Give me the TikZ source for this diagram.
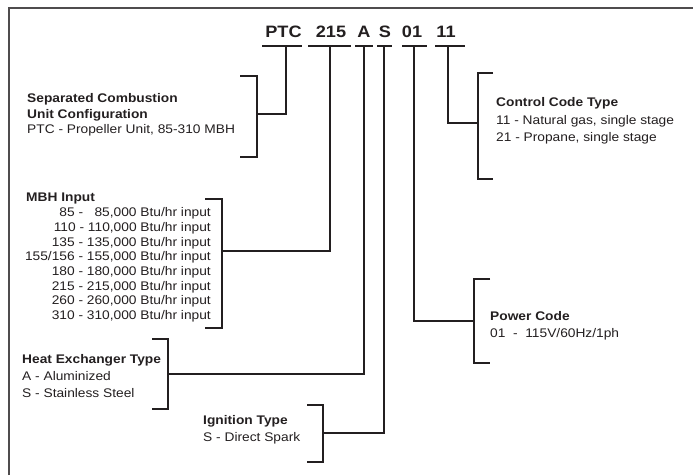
\documentclass[tikz,border=0pt]{standalone}
\usepackage{fontspec}
\setmainfont{Liberation Sans}[FakeStretch=1.1]
\usepackage{tikz}
\usetikzlibrary{positioning,calc}
\definecolor{inkgray}{RGB}{35,31,32}

\begin{document}
\begin{tikzpicture}[
    x=1pt, y=-1pt,
    code/.style={anchor=base, inner sep=0pt, text=inkgray,
                 font=\fontsize{16.5}{18}\selectfont\bfseries},
    desc/.style={anchor=north west, inner sep=0pt, align=left, text=inkgray,
                 font=\fontsize{12.5}{15.5}\selectfont},
    bracket/.style={draw=inkgray, line width=1.5pt},
    line/.style={draw=inkgray, line width=1.4pt},
    uline/.style={draw=inkgray, line width=1.3pt}
]
\useasboundingbox (0,0) rectangle (693,475);
\draw[draw=inkgray!80, line width=1.5pt] (9,475) -- (9,8) -- (693,8);

% model number
\node[code] (ptc)  at (283.5,37) {PTC};
\node[code] (mbh)  at (331,37)   {215};
\node[code] (hex)  at (364,37)   {A};
\node[code] (ign)  at (385,37)   {S};
\node[code] (pwr)  at (412,37)   {01};
\node[code] (ctl)  at (446,37)   {11};
\draw[uline] (262,46) -- (302,46);
\draw[uline] (308,46) -- (351,46);
\draw[uline] (355,46) -- (373,46);
\draw[uline] (377,46) -- (392,46);
\draw[uline] (402,46) -- (427,46);
\draw[uline] (435,46) -- (465,46);
\coordinate (ptc drop) at (286,46);
\coordinate (mbh drop) at (330,46);
\coordinate (hex drop) at (364,46);
\coordinate (ign drop) at (384,46);
\coordinate (pwr drop) at (414,46);
\coordinate (ctl drop) at (448,46);

% descriptions
\node[desc] (ptc txt) at (27,93.5)
     {\textbf{Separated Combustion}\\\textbf{Unit Configuration}\\PTC - Propeller Unit, 85-310 MBH};
\node[desc] (mbh ttl) at (26,192.5) {\textbf{MBH Input}};
\node[desc, anchor=north east, align=right, font=\fontsize{12.5}{14.7}\selectfont] (mbh txt) at (211,207.5)
     {85 - \phantom{1}85,000 Btu/hr input\\110 - 110,000 Btu/hr input\\135 - 135,000 Btu/hr input\\
      155/156 - 155,000 Btu/hr input\\180 - 180,000 Btu/hr input\\215 - 215,000 Btu/hr input\\
      260 - 260,000 Btu/hr input\\310 - 310,000 Btu/hr input};
\node[desc, font=\fontsize{12.5}{17}\selectfont] (hex txt) at (22,354.5)
     {\textbf{Heat Exchanger Type}\\A - Aluminized\\S - Stainless Steel};
\node[desc, font=\fontsize{12.5}{17}\selectfont] (ign txt) at (203,415.5)
     {\textbf{Ignition Type}\\S - Direct Spark};
\node[desc, font=\fontsize{12.5}{17.5}\selectfont] (ctl txt) at (496,97.5)
     {\textbf{Control Code Type}\\11 - Natural gas, single stage\\21 - Propane, single stage};
\node[desc, font=\fontsize{12.5}{16.5}\selectfont] (pwr txt) at (490,311.5)
     {\textbf{Power Code}\\01\ \ -\ \ 115V/60Hz/1ph};

% brackets
\draw[bracket] (240,76) -| (257,157) -- (240,157);
\draw[bracket] (205,199) -| (222,328) -- (205,328);
\draw[bracket] (152,339) -| (168,409) -- (152,409);
\draw[bracket] (307,405) -| (323,462) -- (307,462);
\draw[bracket] (493,73) -| (478,179) -- (493,179);
\draw[bracket] (490,279) -| (474,363) -- (490,363);
\coordinate (ptc br) at (257,114);
\coordinate (mbh br) at (222,251);
\coordinate (hex br) at (168,374);
\coordinate (ign br) at (323,433);
\coordinate (ctl br) at (478,123);
\coordinate (pwr br) at (474,321);

% connectors
\draw[line] (ptc drop) |- (ptc br);
\draw[line] (mbh drop) |- (mbh br);
\draw[line] (hex drop) |- (hex br);
\draw[line] (ign drop) |- (ign br);
\draw[line] (ctl drop) |- (ctl br);
\draw[line] (pwr drop) |- (pwr br);
\end{tikzpicture}
\end{document}
